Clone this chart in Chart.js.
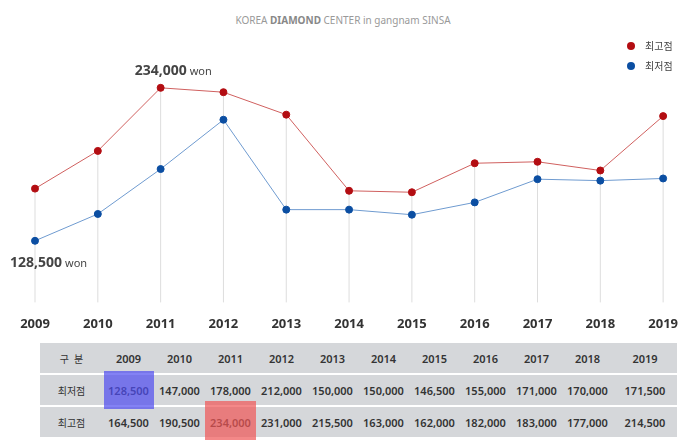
<!DOCTYPE html>
<html><head><meta charset="utf-8">
<script src="https://cdn.jsdelivr.net/npm/chart.js@4"></script>
<style>
body{margin:0;width:686px;height:445px;background:#fff;font-family:"Noto Sans","Noto Sans CJK KR",sans-serif;position:relative;overflow:hidden}
#wrap{position:absolute;left:0;top:0;width:686px;height:340px}
#title{position:absolute;top:13px;left:0;width:686px;text-align:center;font-size:10px;color:#999}
#title b{color:#888}
table{position:absolute;left:40px;top:343px;width:637px;table-layout:fixed;border-collapse:collapse;font-size:11px;font-weight:600;color:#333;background:#d5d7da;z-index:0}
td{text-align:center;padding:0;height:30px;border-top:2px solid #fff;white-space:nowrap}
tr:first-child td{border-top:none}
td:first-child{font-weight:400;font-size:10px}
.hl{position:absolute;opacity:.7;z-index:2}
</style></head><body>
<div id="title">KOREA <b>DIAMOND</b> CENTER in gangnam SINSA</div>
<div id="wrap"><canvas id="c"></canvas></div>
<table id="t"></table>
<div class="hl" style="left:104px;top:371px;width:50px;height:38px;background:#4f4cf0"></div>
<div class="hl" style="left:205px;top:401px;width:51px;height:39px;background:#ef5555"></div>
<script>
const years = ["2009","2010","2011","2012","2013","2014","2015","2016","2017","2018","2019"];
const lowPrices  = [128500,147000,178000,212000,150000,150000,146500,155000,171000,170000,171500];
const highPrices = [164500,190500,234000,231000,215500,163000,162000,182000,183000,177000,214500];
const RED = "#b30d12", BLUE = "#0b4ea2";

// table under the chart
const fmt = (n) => n.toLocaleString("en-US");
const t = document.getElementById("t");
t.innerHTML =
  "<colgroup><col style='width:63px'>" + years.map((y, i) => "<col style='width:" + (i === 10 ? 64 : 51) + "px'>").join("") + "</colgroup>" +
  "<tr><td>구 &nbsp;분</td>" + years.map((y) => "<td>" + y + "</td>").join("") + "</tr>" +
  "<tr><td>최저점</td>" + lowPrices.map((v) => "<td>" + fmt(v) + "</td>").join("") + "</tr>" +
  "<tr><td>최고점</td>" + highPrices.map((v) => "<td>" + fmt(v) + "</td>").join("") + "</tr>";

// drop lines + labels + legend
const extras = {
  id: "extras",
  beforeDatasetsDraw(chart) {
    const ctx = chart.ctx, bottom = chart.chartArea.bottom;
    const hi = chart.getDatasetMeta(1).data, lo = chart.getDatasetMeta(0).data;
    ctx.save();
    ctx.strokeStyle = "#ddd"; ctx.lineWidth = 1;
    hi.forEach((p, i) => {
      ctx.beginPath(); ctx.moveTo(p.x, Math.min(p.y, lo[i].y)); ctx.lineTo(p.x, bottom + 2); ctx.stroke();
    });
    ctx.restore();
  },
  afterDraw(chart) {
    const ctx = chart.ctx;
    const hi = chart.getDatasetMeta(1).data, lo = chart.getDatasetMeta(0).data;
    const hiIdx = highPrices.indexOf(Math.max(...highPrices));
    const loIdx = lowPrices.indexOf(Math.min(...lowPrices));
    ctx.save();
    ctx.fillStyle = "#444"; ctx.textBaseline = "alphabetic";
    const label = (val, x, y) => {
      ctx.font = "bold 14px 'Noto Sans'";
      const s = fmt(val); ctx.fillText(s, x, y);
      const w = ctx.measureText(s).width;
      ctx.font = "11px 'Noto Sans'"; ctx.fillText("won", x + w + 3, y);
    };
    ctx.textAlign = "left";
    label(highPrices[hiIdx], hi[hiIdx].x - 26, hi[hiIdx].y - 13);
    label(lowPrices[loIdx], lo[loIdx].x - 25, lo[loIdx].y + 26);
    // legend
    [["최고점", RED, 46], ["최저점", BLUE, 66]].forEach(([txt, col, y]) => {
      ctx.fillStyle = col; ctx.beginPath(); ctx.arc(631, y, 4, 0, Math.PI * 2); ctx.fill();
      ctx.fillStyle = "#444"; ctx.font = "10px 'Noto Sans CJK KR'"; ctx.textBaseline = "middle";
      ctx.fillText(txt, 645, y);
    });
    ctx.restore();
  }
};

new Chart(document.getElementById("c"), {
  type: "line",
  data: {
    labels: years,
    datasets: [
      { label: "최저점", data: lowPrices, borderColor: "#6f9bd0", backgroundColor: BLUE, pointBackgroundColor: BLUE, pointBorderColor: BLUE, borderWidth: 1, pointRadius: 3.5, tension: 0 },
      { label: "최고점", data: highPrices, borderColor: "#d0605f", backgroundColor: RED, pointBackgroundColor: RED, pointBorderColor: RED, borderWidth: 1, pointRadius: 3.5, tension: 0 }
    ]
  },
  options: {
    responsive: true, maintainAspectRatio: false, animation: false,
    layout: { padding: { left: 35, right: 10, top: 60, bottom: 0 } },
    plugins: { legend: { display: false }, tooltip: { enabled: false } },
    scales: {
      x: { offset: false, grid: { display: false }, border: { display: false },
           ticks: { color: "#333", padding: 8, font: { size: 13, weight: "bold", family: "Noto Sans" } } },
      y: { display: false, min: 87400, max: 253200 }
    }
  },
  plugins: [extras]
});
</script>
</body></html>
